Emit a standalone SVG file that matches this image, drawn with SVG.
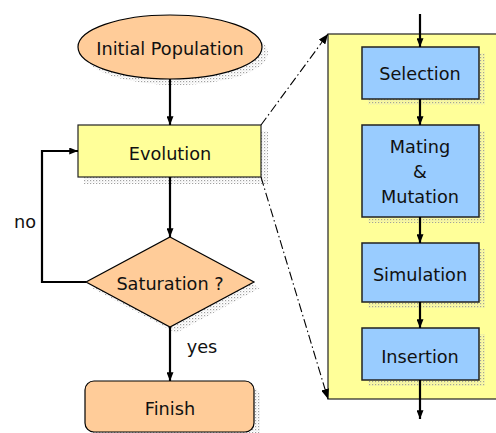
<svg xmlns="http://www.w3.org/2000/svg" width="496" height="433" viewBox="0 0 496 433">
  <defs>
    <style>
      text { font-family: "DejaVu Sans", Verdana, sans-serif; font-size: 17.7px; fill: #111; text-anchor: middle; }
      .peach { fill: #FFCC99; stroke: #000; stroke-width: 1.2; }
      .yellow { fill: #FFFF99; stroke: #222; stroke-width: 1.2; }
      .blue { fill: #99CCFF; stroke: #222; stroke-width: 1.5; }
      .shadow { fill: url(#dots); stroke: none; }
      .flow { fill: none; stroke: #000; stroke-width: 2.2; marker-end: url(#arrow); }
      .zoom { fill: none; stroke: #000; stroke-width: 1.1; stroke-dasharray: 9 3 1.5 3; marker-end: url(#arrowSmall); }
    </style>
    <!-- sparse dot texture used for drop shadows -->
    <pattern id="dots" width="3" height="3" patternUnits="userSpaceOnUse">
      <rect x="0" y="0" width="1.2" height="1.2" fill="#a0a0a0"/>
      <rect x="1.5" y="1.5" width="1" height="1" fill="#d4d4d4"/>
    </pattern>
    <marker id="arrow" viewBox="0 0 10 8" refX="10" refY="4" markerWidth="9" markerHeight="7" markerUnits="userSpaceOnUse" orient="auto">
      <path d="M0,0 L10,4 L0,8 z" fill="#000"/>
    </marker>
    <marker id="arrowSmall" viewBox="0 0 10 8" refX="10" refY="4" markerWidth="10" markerHeight="8" markerUnits="userSpaceOnUse" orient="auto">
      <path d="M0,0 L10,4 L0,8 z" fill="#000"/>
    </marker>
  </defs>

  <!-- expanded view of the evolution step -->
  <g id="evolution-detail">
    <rect x="328" y="34" width="180" height="365" class="yellow"/>
  </g>

  <g id="initial-population">
    <ellipse cx="176" cy="53" rx="92" ry="32" class="shadow"/>
    <ellipse cx="170" cy="47" rx="92" ry="32" class="peach"/>
    <text x="170" y="55">Initial Population</text>
  </g>

  <g id="evolution">
    <rect x="84" y="131" width="184" height="53" class="shadow"/>
    <rect x="78" y="125" width="183" height="52" class="yellow"/>
    <text x="170" y="160">Evolution</text>
  </g>

  <g id="saturation">
    <polygon points="176,243 260,288 176,333 92,288" class="shadow"/>
    <polygon points="170,237 254,282 170,327 86,282" class="peach"/>
    <text x="170" y="290">Saturation ?</text>
  </g>

  <g id="finish">
    <rect x="91" y="387" width="169" height="52" rx="9" class="shadow"/>
    <rect x="85" y="381" width="169" height="51" rx="9" class="peach"/>
    <text x="170" y="415">Finish</text>
  </g>

  <g id="selection">
    <rect x="368" y="53" width="117" height="52" class="shadow"/>
    <rect x="362" y="47" width="117" height="52" class="blue"/>
    <text x="420" y="80">Selection</text>
  </g>

  <g id="mating-mutation">
    <rect x="368" y="131" width="117" height="92" class="shadow"/>
    <rect x="362" y="125" width="117" height="92" class="blue"/>
    <text x="420" y="153">Mating</text>
    <text x="420" y="178">&amp;</text>
    <text x="420" y="203">Mutation</text>
  </g>

  <g id="simulation">
    <rect x="368" y="249" width="117" height="59" class="shadow"/>
    <rect x="362" y="243" width="117" height="59" class="blue"/>
    <text x="420" y="281">Simulation</text>
  </g>

  <g id="insertion">
    <rect x="368" y="334" width="117" height="52" class="shadow"/>
    <rect x="362" y="328" width="117" height="52" class="blue"/>
    <text x="420" y="363">Insertion</text>
  </g>

  <g id="connectors">
    <line x1="170" y1="79" x2="170" y2="125" class="flow"/>
    <line x1="170" y1="177" x2="170" y2="237" class="flow"/>
    <line x1="170" y1="327" x2="170" y2="381" class="flow"/>
    <polyline points="86,282 42,282 42,151 78,151" class="flow"/>

    <line x1="420" y1="14" x2="420" y2="47" class="flow"/>
    <line x1="420" y1="99" x2="420" y2="125" class="flow"/>
    <line x1="420" y1="217" x2="420" y2="243" class="flow"/>
    <line x1="420" y1="302" x2="420" y2="328" class="flow"/>
    <line x1="420" y1="380" x2="420" y2="419" class="flow"/>

    <line x1="261" y1="125" x2="328" y2="34" class="zoom"/>
    <line x1="261" y1="177" x2="328" y2="399" class="zoom"/>

    <text x="25" y="228">no</text>
    <text x="202" y="353">yes</text>
  </g>
</svg>
